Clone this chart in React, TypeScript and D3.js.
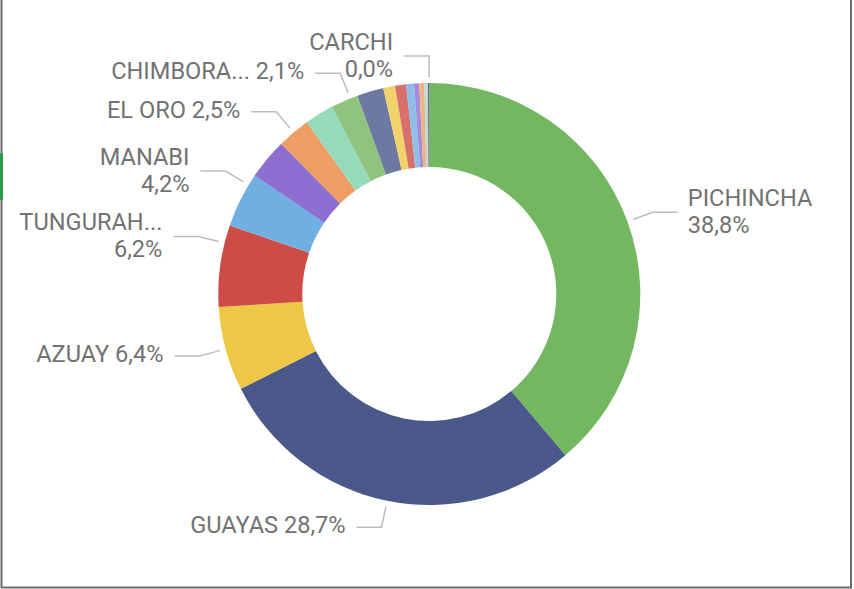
import React from 'react';
import * as d3 from 'd3';

// share of total, sorted the way the donut draws them (clockwise from 12 o'clock)
const provinces = [
  'PICHINCHA', 'GUAYAS', 'AZUAY', 'TUNGURAHUA', 'MANABI', 'LOJA', 'EL ORO',
  'IMBABURA', 'CHIMBORAZO', 'SANTO DOMINGO', 'COTOPAXI', 'LOS RIOS',
  'ESMERALDAS', 'SANTA ELENA', 'CAÑAR', 'SUCUMBIOS', 'NAPO', 'GALAPAGOS', 'CARCHI',
];
const shares = [
  38.84, 28.74, 6.44, 6.24, 4.22, 3.14, 2.52, 2.22, 2.1, 2.04, 0.9, 0.84,
  0.6, 0.4, 0.38, 0.17, 0.12, 0.06, 0.03,
];
const sliceColors = [
  '#74B761', '#4A588A', '#ECC846', '#CD4C46', '#71AFE2', '#8D6FD1', '#EE9E64',
  '#95DABB', '#8FC47F', '#6E79A1', '#F0D36B', '#D7706B', '#8DBFE8', '#A48CDA',
  '#F1B183', '#AAE1C9', '#C9CFDA', '#37426A', '#5E5E5E',
];

// which slices Power BI kept a label for
const labeled = ['PICHINCHA', 'GUAYAS', 'AZUAY', 'TUNGURAHUA', 'MANABI', 'EL ORO', 'CHIMBORAZO', 'CARCHI'];
const wrapped = ['PICHINCHA', 'TUNGURAHUA', 'MANABI', 'CARCHI'];

const WIDTH = 854;
const HEIGHT = 589;
const CX = 429.3;
const CY = 294;
const OUTER = 211;
const INNER = 127;
const FONT = 23.6;
const TEXT_COLOR = '#727272';
const LINE_COLOR = '#BDBDBD';

// where on the slice the leader attaches (0 = start, 1 = end), default middle
const anchorAt: Record<string, number> = { TUNGURAHUA: 0.78, MANABI: 0.8, CHIMBORAZO: 0.73 };

const shortName = (name: string) => (name.length > 9 ? name.slice(0, 8) + '...' : name);

const App = () => {
  const total = d3.sum(shares);
  const data = provinces.map((name, i) => ({ name, value: shares[i], color: sliceColors[i] }));
  const pie = d3
    .pie<{ name: string; value: number; color: string }>()
    .sort(null)
    .value((d) => d.value);
  const arcs = pie(data);
  const arc = d3
    .arc<d3.PieArcDatum<{ name: string; value: number; color: string }>>()
    .innerRadius(INNER)
    .outerRadius(OUTER);

  const pct = (v: number) => (v / total * 100).toFixed(1).replace('.', ',') + '%';
  const polar = (a: number, r: number): [number, number] => [Math.sin(a) * r, -Math.cos(a) * r];

  const labels = arcs
    .filter((a) => labeled.includes(a.data.name))
    .map((a) => {
      const f = anchorAt[a.data.name] ?? 0.5;
      const ang = a.startAngle + f * (a.endAngle - a.startAngle);
      const right = ang < Math.PI;
      const start = polar(ang, OUTER + 6);
      const elbow = polar(ang, OUTER + 27);
      const end: [number, number] = [elbow[0] + (right ? 25 : -25), elbow[1]];
      const tx = end[0] + (right ? 10 : -11);
      const name = shortName(a.data.name);
      const value = pct(a.data.value);
      const lines = wrapped.includes(a.data.name) ? [name, value] : [`${name} ${value}`];
      return { key: a.data.name, right, pts: [start, elbow, end], tx, ty: elbow[1], lines };
    });

  return (
    <svg
      width={WIDTH}
      height={HEIGHT}
      style={{ position: 'absolute', left: 0, top: 0, background: '#fff' }}
    >
      <path d={`M1.5,-5V587.5H851V-5`} fill="none" stroke="#6B6B6B" strokeWidth={2} />
      <rect x={0} y={153} width={3} height={47} fill="#2E9A49" />
      <g transform={`translate(${CX},${CY})`}>
        {arcs.map((a) => (
          <path key={a.data.name} d={arc(a) ?? ''} fill={a.data.color} />
        ))}
        {labels.map((l) => (
          <g key={l.key}>
            <polyline
              points={l.pts.map((p) => p.join(',')).join(' ')}
              fill="none"
              stroke={LINE_COLOR}
              strokeWidth={1.5}
            />
            <text
              x={l.tx}
              textAnchor={l.right ? 'start' : 'end'}
              fontFamily="Roboto, sans-serif"
              fontSize={FONT}
              fill={TEXT_COLOR}
            >
              {l.lines.map((t, i) => (
                <tspan
                  key={i}
                  x={l.tx}
                  y={l.lines.length === 1 ? l.ty + 6 : l.ty - 6.5 + i * 27}
                >
                  {t}
                </tspan>
              ))}
            </text>
          </g>
        ))}
      </g>
    </svg>
  );
};

export default App;
